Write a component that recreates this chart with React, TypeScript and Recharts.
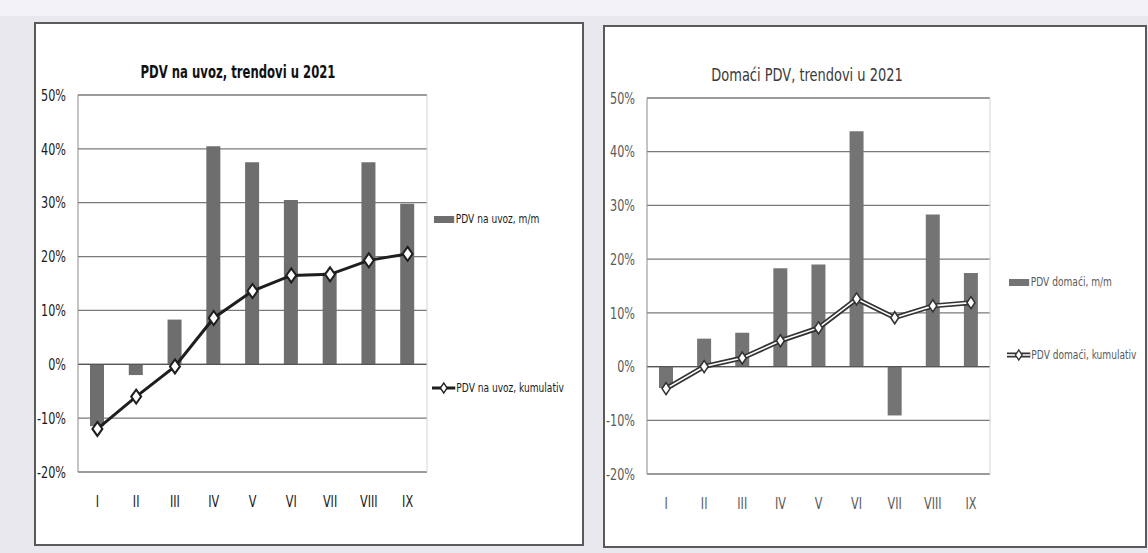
import React from "react"
import { ComposedChart, Bar, Line, XAxis, YAxis, CartesianGrid, ReferenceLine } from "recharts"

const months = ["I", "II", "III", "IV", "V", "VI", "VII", "VIII", "IX"]
const importMonthly = [-11.5, -2, 8.3, 40.5, 37.5, 30.5, 17, 37.5, 29.8]
const importCumulative = [-12, -6, -0.4, 8.6, 13.6, 16.5, 16.7, 19.3, 20.5]
const domesticMonthly = [-4, 5.2, 6.3, 18.3, 19, 43.8, -9.1, 28.3, 17.4]
const domesticCumulative = [-4.1, 0, 1.6, 4.8, 7.2, 12.6, 9.1, 11.3, 11.9]
const yTicks = [-20, -10, 0, 10, 20, 30, 40, 50]

const font = '"Liberation Sans Narrow", "DejaVu Sans Condensed", "Arial Narrow", sans-serif'

const importData = months.map((m, i) => ({ m, mm: importMonthly[i], cum: importCumulative[i] }))
const domesticData = months.map((m, i) => ({ m, mm: domesticMonthly[i], cum: domesticCumulative[i] }))

function Diamond(props: any) {
  const { cx, cy, w, h, stroke, sw } = props
  if (cx == null || cy == null) return null
  return (
    <path
      d={`M${cx},${cy - h}L${cx + w},${cy}L${cx},${cy + h}L${cx - w},${cy}Z`}
      fill="#fff"
      stroke={stroke}
      strokeWidth={sw}
    />
  )
}

// narrow, tall tick text like the scanned Excel charts
function NarrowTick({ x, y, payload, color, anchor, dy, fmt }: any) {
  return (
    <g transform={`translate(${x},${y}) scale(0.78,1)`}>
      <text textAnchor={anchor} dy={dy} fontSize={16} fill={color} fontFamily={font}>
        {fmt ? fmt(payload.value) : payload.value}
      </text>
    </g>
  )
}

function Panel({
  left,
  top,
  width,
  height,
  title,
  bold,
  titleScale,
  textColor,
  data,
  barFill,
  double,
  legendBar,
  legendLine,
  legendPos,
}: any) {
  const cw = width - 4
  const ch = height - 4
  const lineColor = double ? "#333" : "#1e1e1e"
  const legendStyle: React.CSSProperties = {
    position: "absolute",
    display: "flex",
    alignItems: "center",
    fontSize: 12,
    color: textColor,
    whiteSpace: "nowrap",
    transform: "scaleX(0.84)",
    transformOrigin: "left center",
  }
  return (
    <div
      style={{
        position: "absolute",
        left,
        top,
        width,
        height,
        boxSizing: "border-box",
        border: "2px solid #5a5a5a",
        background: "#fff",
        fontFamily: font,
      }}
    >
      <div
        style={{
          position: "absolute",
          left: 0,
          top: 37,
          width: 404,
          textAlign: "center",
          fontSize: 18.5,
          fontWeight: bold ? 700 : 400,
          color: bold ? "#111" : "#3a3a3a",
          transform: `scaleX(${titleScale})`,
          transformOrigin: "center",
          whiteSpace: "nowrap",
        }}
      >
        {title}
      </div>
      <ComposedChart width={cw} height={ch} data={data} margin={{ top: 71, right: 154, left: 0, bottom: 0 }}>
        <CartesianGrid vertical={false} stroke="#7a7a7a" strokeWidth={1.3} />
        <XAxis
          dataKey="m"
          height={72}
          axisLine={false}
          tickLine={false}
          tickMargin={16}
          tick={(p: any) => <NarrowTick {...p} color={textColor} anchor="middle" dy="0.8em" />}
          interval={0}
        />
        <YAxis
          domain={[-20, 50]}
          ticks={yTicks}
          width={42}
          tickLine={false}
          axisLine={{ stroke: "#8a8a8a" }}
          tickMargin={6}
          tick={(p: any) => (
            <NarrowTick {...p} color={textColor} anchor="end" dy="0.36em" fmt={(v: number) => `${v}%`} />
          )}
        />
        <YAxis yAxisId="edge" orientation="right" width={1} tick={false} axisLine={{ stroke: "#d4d4d4" }} />
        <ReferenceLine y={0} stroke="#555" strokeWidth={1.3} />
        <Bar dataKey="mm" fill={barFill} barSize={14} isAnimationActive={false} />
        {double ? (
          <Line dataKey="cum" stroke="#333" strokeWidth={5} dot={false} isAnimationActive={false} />
        ) : null}
        <Line
          dataKey="cum"
          stroke={double ? "#fff" : "#1e1e1e"}
          strokeWidth={double ? 1.6 : 3}
          isAnimationActive={false}
          dot={(p: any) => (
            <Diamond
              key={p.index}
              cx={p.cx}
              cy={p.cy}
              w={double ? 4 : 5}
              h={double ? 6 : 7}
              stroke={lineColor}
              sw={double ? 1.6 : 2}
            />
          )}
        />
      </ComposedChart>
      <div style={{ ...legendStyle, left: legendPos.x, top: legendPos.y1 - 8 }}>
        <span style={{ display: "inline-block", width: 24, height: 7, background: barFill, marginRight: 2 }} />
        {legendBar}
      </div>
      <div style={{ ...legendStyle, left: legendPos.x - 2, top: legendPos.y2 - 8 }}>
        <svg width={28} height={16} style={{ marginRight: 1 }}>
          <line x1={0} y1={8} x2={28} y2={8} stroke={lineColor} strokeWidth={double ? 5 : 3} />
          {double ? <line x1={0} y1={8} x2={28} y2={8} stroke="#fff" strokeWidth={1.6} /> : null}
          <Diamond cx={14} cy={8} w={4} h={5} stroke={lineColor} sw={1.5} />
        </svg>
        {legendLine}
      </div>
    </div>
  )
}

export default function App() {
  return (
    <div
      style={{
        position: "absolute",
        left: 0,
        top: 0,
        width: 1148,
        height: 553,
        background: "#e8e8ee",
        overflow: "hidden",
      }}
    >
      <div style={{ position: "absolute", left: 0, top: 0, width: 1148, height: 16, background: "#f3f3f7" }} />
      <Panel
        left={34}
        top={22}
        width={550}
        height={524}
        title="PDV na uvoz, trendovi u 2021"
        bold
        titleScale={0.7}
        textColor="#1a1a1a"
        data={importData}
        barFill="#6e6e6e"
        double={false}
        legendBar="PDV na uvoz, m/m"
        legendLine="PDV na uvoz, kumulativ"
        legendPos={{ x: 398, y1: 196, y2: 364 }}
      />
      <Panel
        left={603}
        top={25}
        width={544}
        height={523}
        title="Domaći PDV, trendovi u 2021"
        bold={false}
        titleScale={0.78}
        textColor="#5a5a5a"
        data={domesticData}
        barFill="#747474"
        double
        legendBar="PDV domaći, m/m"
        legendLine="PDV domaći, kumulativ"
        legendPos={{ x: 404, y1: 256, y2: 328 }}
      />
    </div>
  )
}
